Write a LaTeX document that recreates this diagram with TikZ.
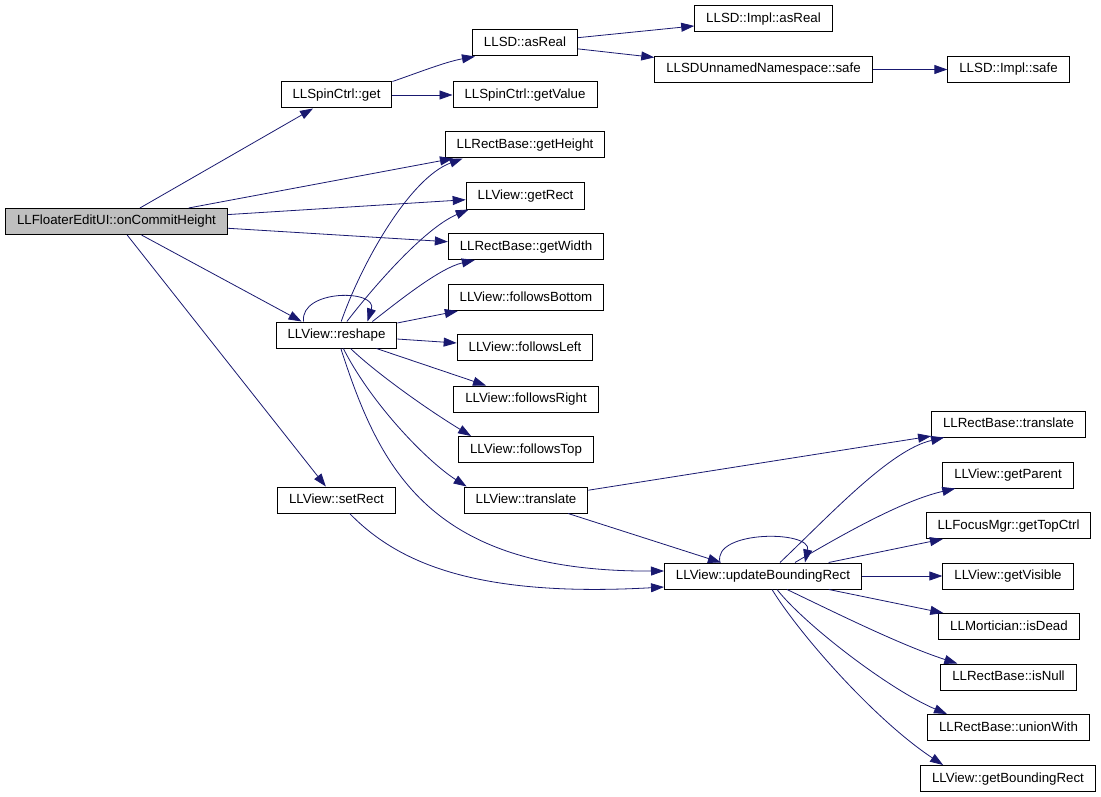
\documentclass[tikz,border=0pt]{standalone}
\usepackage{fontspec}
\setmainfont{Liberation Sans}
\usetikzlibrary{arrows.meta}
\definecolor{callblue}{HTML}{191970}
\begin{document}
\begin{tikzpicture}[x=1pt,y=-1pt,>={Triangle[length=13pt,width=9pt]},
    fn/.style={draw,line width=1pt,inner xsep=11.5pt,inner ysep=0pt,minimum height=26pt,
      text height=10pt,text depth=3pt,font=\fontsize{13.3}{16}\selectfont},
    call/.style={->,draw=callblue,line width=0.8pt}]
\useasboundingbox (0,0) rectangle (1101,797);
\node[fn,fill=black!25] (oncommit) at (116.5,221.5) {LLFloaterEditUI::onCommitHeight};
\node[fn] (spinget) at (336.5,95) {LLSpinCtrl::get};
\node[fn] (asreal) at (525,43) {LLSD::asReal};
\node[fn] (implasreal) at (763.5,19) {LLSD::Impl::asReal};
\node[fn] (nssafe) at (763.5,69.5) {LLSDUnnamedNamespace::safe};
\node[fn] (implsafe) at (1008.5,69.5) {LLSD::Impl::safe};
\node[fn] (getvalue) at (525,95) {LLSpinCtrl::getValue};
\node[fn] (getheight) at (525,145) {LLRectBase::getHeight};
\node[fn] (getrect) at (525.5,196) {LLView::getRect};
\node[fn] (getwidth) at (526,246.5) {LLRectBase::getWidth};
\node[fn] (fbottom) at (526,297.5) {LLView::followsBottom};
\node[fn] (reshape) at (336.5,335) {LLView::reshape};
\node[fn] (fleft) at (525,347.5) {LLView::followsLeft};
\node[fn] (fright) at (526,399) {LLView::followsRight};
\node[fn] (ftop) at (526,449.5) {LLView::followsTop};
\node[fn] (setrect) at (336.5,500) {LLView::setRect};
\node[fn] (translate) at (526,500) {LLView::translate};
\node[fn] (updbr) at (763,576) {LLView::updateBoundingRect};
\node[fn] (rbtranslate) at (1008.5,424) {LLRectBase::translate};
\node[fn] (getparent) at (1008,475) {LLView::getParent};
\node[fn] (gettop) at (1008.5,525.5) {LLFocusMgr::getTopCtrl};
\node[fn] (getvisible) at (1008,576) {LLView::getVisible};
\node[fn] (isdead) at (1009,626.5) {LLMortician::isDead};
\node[fn] (isnull) at (1008.5,677) {LLRectBase::isNull};
\node[fn] (unionwith) at (1008.5,727.5) {LLRectBase::unionWith};
\node[fn] (getbr) at (1008,778.5) {LLView::getBoundingRect};

\draw[call] (oncommit) -- (spinget);
\draw[call] (oncommit) -- (getheight);
\draw[call] (oncommit) -- (getrect);
\draw[call] (oncommit) -- (getwidth);
\draw[call] (oncommit) -- ([xshift=26pt]reshape.north west);
\draw[call] (oncommit) -- (setrect);
\draw[call] (spinget.north east) .. controls (420,72) and (445,62) .. ([xshift=3pt]asreal.south west);
\draw[call] (spinget) -- (getvalue);
\draw[call] (asreal) -- (implasreal);
\draw[call] (asreal) -- (nssafe);
\draw[call] (nssafe) -- (implsafe);

\draw[call] ([xshift=-33pt]reshape.north) .. controls (300,289) and (378,289) .. ([xshift=31pt]reshape.north);
\draw[call] (reshape) .. controls (362,262) and (410,178) .. ([xshift=18pt]getheight.south west);
\draw[call] (reshape) .. controls (375,285) and (425,228) .. ([xshift=3pt]getrect.south west);
\draw[call] ([xshift=-25pt]reshape.north east) .. controls (400,300) and (440,268) .. ([xshift=27pt]getwidth.south west);
\draw[call] (reshape) -- (fbottom);
\draw[call] (reshape) -- (fleft);
\draw[call] (reshape) -- (fright);
\draw[call] (reshape) .. controls (375,372) and (425,408) .. ([xshift=13pt]ftop.north west);
\draw[call] (reshape) .. controls (372,405) and (428,462) .. ([xshift=3pt]translate.north west);
\draw[call] (reshape) .. controls (380,470) and (430,572) .. ([yshift=5pt]updbr.west);
\draw[call] (setrect) .. controls (395,560) and (470,598) .. ([yshift=-11pt]updbr.west);
\draw[call] (translate) -- (rbtranslate);
\draw[call] (translate) -- (updbr);

\draw[call] ([xshift=-43pt]updbr.north) .. controls (712,530) and (812,530) .. ([xshift=42pt]updbr.north);
\draw[call] ([xshift=17pt]updbr.north) .. controls (830,515) and (890,450) .. ([xshift=13pt]rbtranslate.south west);
\draw[call] ([xshift=32pt]updbr.north) .. controls (850,530) and (905,500) .. ([xshift=13pt]getparent.south west);
\draw[call] (updbr) -- (gettop);
\draw[call] (updbr) -- (getvisible);
\draw[call] (updbr) -- (isdead);
\draw[call] ([xshift=24pt]updbr.south) .. controls (830,610) and (900,645) .. ([xshift=17pt]isnull.north west);
\draw[call] ([xshift=14pt]updbr.south) .. controls (805,625) and (890,690) .. ([xshift=20pt]unionwith.north west);
\draw[call] ([xshift=9pt]updbr.south) .. controls (800,635) and (875,720) .. ([xshift=23pt]getbr.north west);
\end{tikzpicture}
\end{document}
